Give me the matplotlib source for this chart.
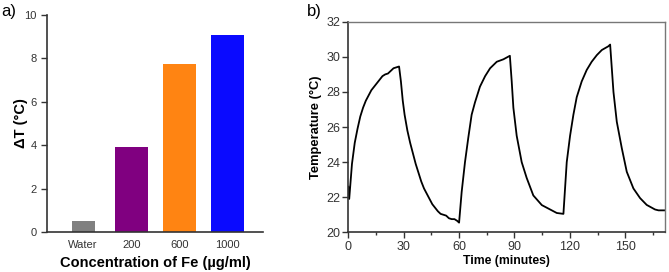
import matplotlib
matplotlib.use("Agg")
import matplotlib.pyplot as plt
from matplotlib.ticker import MultipleLocator

plt.rcParams['font.family'] = ['Liberation Sans', 'DejaVu Sans']

# ---- panel a data ----
categories = ["Water", "200", "600", "1000"]
delta_t = [0.52, 3.92, 7.73, 9.06]
bar_colors = ["#808080", "#800080", "#ff8412", "#0a0aff"]
bar_widths = [0.48, 0.68, 0.68, 0.68]

# ---- panel b data ----
time_min = [0, 0.5, 2, 3.5, 5, 6.5, 8, 9.5, 11, 12.5, 14, 15.5, 17, 18.5, 20, 21.5, 23, 24.5, 26, 27.5,
            28.5, 29.5, 30.5, 32, 33.5, 35, 36.5, 38, 39.5, 41, 42.5, 44, 45.5, 47, 48.5, 50, 51.5, 53,
            54.5, 56, 57.5, 59, 60,
            61.4, 63.2, 65, 66.8, 68.6, 71.3, 74.1, 76.8, 80.4, 84, 87.5,
            88.5, 89.4, 91.2, 93.9, 96.6, 100.2, 104.8, 109.3, 112.9, 116.5,
            118.3, 120.1, 121.9, 123.7, 126.4, 129.1, 131.8, 134.6, 137.3, 140.8, 141.8,
            143.6, 145.4, 148.1, 150.8, 154.4, 158, 161.6, 166.1, 168, 172]
temperature = [22.6, 21.9, 23.9, 25.1, 25.9, 26.6, 27.1, 27.5, 27.8, 28.1, 28.3, 28.5, 28.7, 28.9, 29.0, 29.05, 29.2, 29.35, 29.4, 29.45,
               28.6, 27.5, 26.7, 25.8, 25.1, 24.5, 23.9, 23.4, 22.9, 22.5, 22.2, 21.9, 21.6, 21.4, 21.2, 21.05, 21.0, 20.95,
               20.8, 20.75, 20.75, 20.65, 20.55,
               22.3, 24.0, 25.4, 26.7, 27.4, 28.3, 28.9, 29.35, 29.72, 29.86, 30.06,
               28.6, 27.1, 25.5, 24.0, 23.1, 22.1, 21.55, 21.3, 21.1, 21.05,
               24.0, 25.5, 26.7, 27.7, 28.6, 29.25, 29.72, 30.1, 30.39, 30.6, 30.7,
               28.0, 26.3, 24.8, 23.45, 22.5, 21.95, 21.56, 21.3, 21.25, 21.25]

fig = plt.figure(figsize=(6.69, 2.72), dpi=100)

# ---- panel a ----
ax1 = fig.add_axes([0.0703, 0.147, 0.3227, 0.798])
x_pos = list(range(len(categories)))
ax1.bar(x_pos, delta_t, width=bar_widths, color=bar_colors)
ax1.set_xlim(-0.75, 3.73)
ax1.set_ylim(0, 10)
ax1.set_yticks([0, 2, 4, 6, 8, 10])
ax1.set_xticks(x_pos)
ax1.set_xticklabels(categories)
ax1.spines['top'].set_visible(False)
ax1.spines['right'].set_visible(False)
for s in ['left', 'bottom']:
    ax1.spines[s].set_color('#333333')
    ax1.spines[s].set_linewidth(1.2)
ax1.tick_params(axis='y', labelsize=8, length=4, width=1, colors='#333333')
ax1.tick_params(axis='x', labelsize=8, length=0, pad=6, colors='#333333')
ax1.set_ylabel("ΔT (°C)", fontsize=10.5, fontweight='bold')
ax1.yaxis.set_label_coords(-0.088, 0.5)
ax1.set_xlabel("Concentration of Fe (µg/ml)", fontsize=10.5, fontweight='bold', labelpad=4)

# ---- panel b ----
ax2 = fig.add_axes([0.5206, 0.146, 0.4734, 0.774])
ax2.plot(time_min, temperature, color='black', linewidth=1.3)
ax2.set_xlim(0, 171.5)
ax2.set_ylim(20, 32)
ax2.set_xticks([0, 30, 60, 90, 120, 150])
ax2.set_yticks([20, 22, 24, 26, 28, 30, 32])
ax2.xaxis.set_minor_locator(MultipleLocator(15))
for s in ['left', 'bottom']:
    ax2.spines[s].set_color('#333333')
    ax2.spines[s].set_linewidth(1.2)
for s in ['top', 'right']:
    ax2.spines[s].set_color('#777777')
    ax2.spines[s].set_linewidth(1.0)
ax2.tick_params(axis='both', which='major', labelsize=9, length=4, width=1, colors='#333333', pad=2)
ax2.tick_params(axis='x', which='minor', length=2.5, width=1, colors='#333333')
ax2.set_ylabel("Temperature (°C)", fontsize=9.3, fontweight='bold')
ax2.yaxis.set_label_coords(-0.083, 0.5)
ax2.set_xlabel("Time (minutes)", fontsize=8.8, fontweight='bold', labelpad=2)

# panel labels
fig.text(0.002, 0.958, "a)", fontsize=12, va='center', ha='left')
fig.text(0.459, 0.958, "b)", fontsize=12, va='center', ha='left')

fig.savefig("out.png", dpi=100)
